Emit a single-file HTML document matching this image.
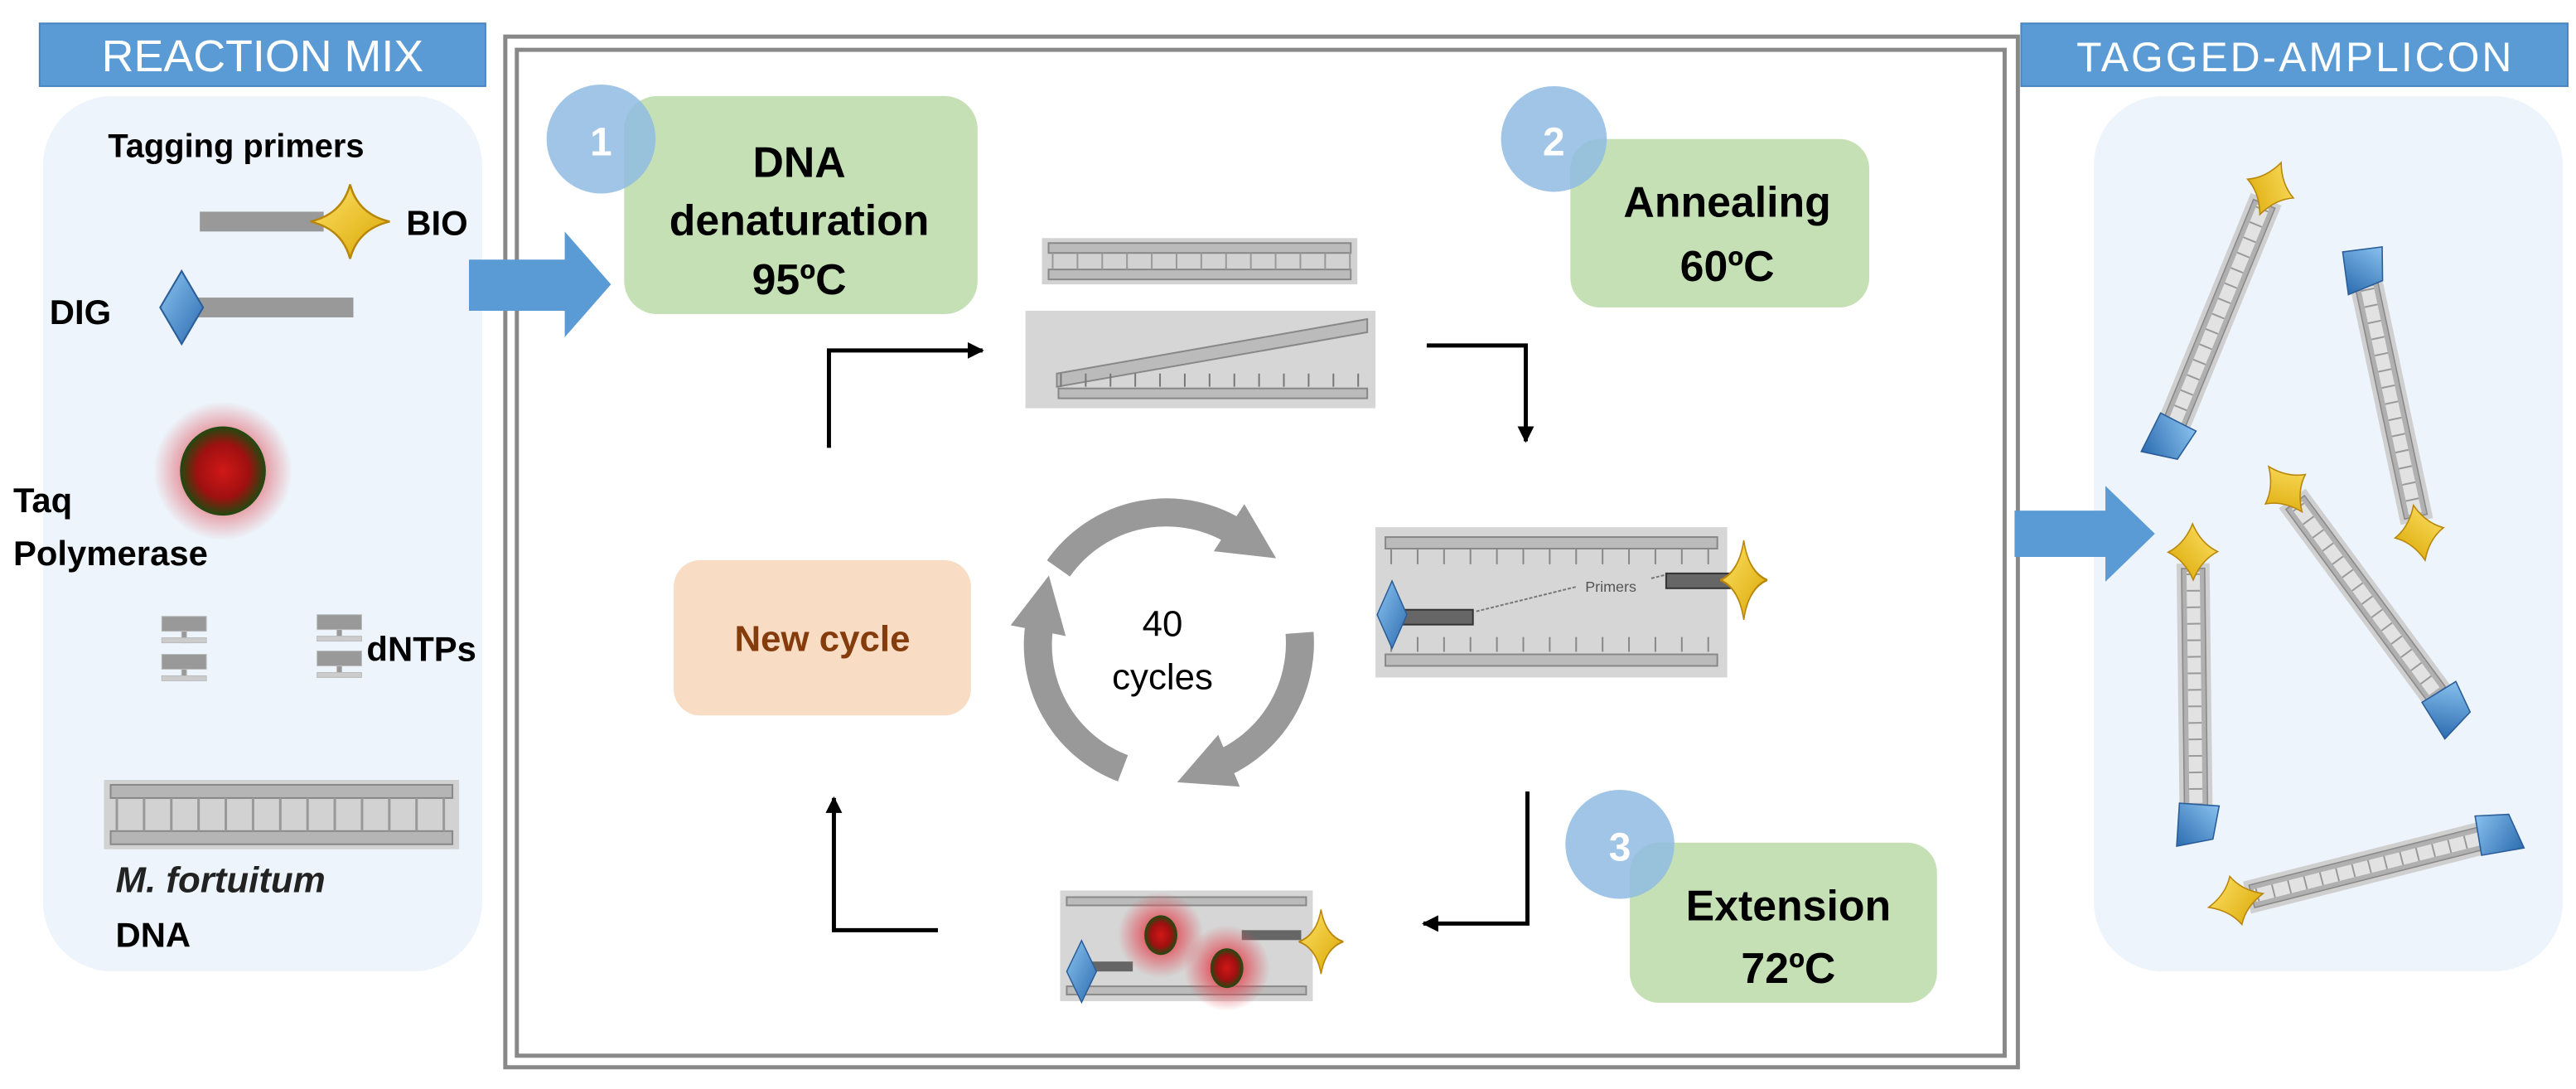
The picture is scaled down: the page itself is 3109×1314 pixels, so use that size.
<!DOCTYPE html>
<html><head><meta charset="utf-8"><style>html,body{margin:0;padding:0;background:#fff}svg{display:block}</style></head>
<body>
<svg width="3109" height="1314" viewBox="0 0 1560 659" xmlns="http://www.w3.org/2000/svg" font-family="Liberation Sans, sans-serif">
<defs>
<radialGradient id="glow"><stop offset="0.4" stop-color="#e0505a" stop-opacity="0.8"/><stop offset="1" stop-color="#e0505a" stop-opacity="0"/></radialGradient>
<radialGradient id="taq"><stop offset="0" stop-color="#d01818"/><stop offset="0.6" stop-color="#a01010"/><stop offset="1" stop-color="#1f4a10"/></radialGradient>
<linearGradient id="gold" x1="0" y1="0" x2="1" y2="1"><stop offset="0" stop-color="#ffe46a"/><stop offset="1" stop-color="#d8a400"/></linearGradient>
<linearGradient id="blu" x1="0" y1="0" x2="1" y2="1"><stop offset="0" stop-color="#8cc4f0"/><stop offset="1" stop-color="#2c6cb0"/></linearGradient>
<path id="star" d="M0,-15 Q3,-3 15,0 Q3,3 0,15 Q-3,3 -15,0 Q-3,-3 0,-15Z" fill="url(#gold)" stroke="#b8860b" stroke-width="0.8"/>
<path id="fstar" d="M0,-15 Q5,-5 17,0 Q5,5 0,15 Q-5,5 -17,0 Q-5,-5 0,-15Z" fill="url(#gold)" stroke="#b8860b" stroke-width="0.8"/>
<path id="dia" d="M0,-17 L10,0 0,17 -10,0Z" fill="url(#blu)" stroke="#2a5d99" stroke-width="0.8"/>
<path id="sdia" d="M-10,-14 L10,-10 14,12 -12,10Z" fill="url(#blu)" stroke="#2a5d99" stroke-width="0.8"/>
<g id="lad">
<rect x="0" y="-10" width="150" height="20" fill="#cfcfcf"/>
<rect x="3" y="-7" width="144" height="14" fill="#b0b0b0" stroke="#8a8a8a" stroke-width="0.8"/>
<rect x="5" y="-4" width="140" height="8" fill="#e2e2e2"/>
<line x1="6" y1="0" x2="144" y2="0" stroke="#999" stroke-width="8" stroke-dasharray="1 9"/>
</g>
<marker id="ah" viewBox="0 0 10 10" refX="9" refY="5" markerWidth="10" markerHeight="10" markerUnits="userSpaceOnUse" orient="auto"><path d="M0,0 L10,5 0,10Z" fill="#000"/></marker>
<marker id="gh" viewBox="0 0 10 10" refX="2" refY="5" markerWidth="34" markerHeight="34" markerUnits="userSpaceOnUse" orient="auto"><path d="M0,0 L10,5 0,10Z" fill="#999"/></marker>
</defs>

<!-- Left panel -->
<rect x="24" y="14" width="270" height="38" fill="#5b9bd5" stroke="#4a86c0"/>
<text x="159" y="43" text-anchor="middle" fill="#fff" font-size="27">REACTION MIX</text>
<rect x="26" y="58" width="266" height="530" rx="42" fill="#edf4fb"/>
<text x="143" y="95" text-anchor="middle" font-size="20" font-weight="bold">Tagging primers</text>
<rect x="121" y="128" width="75" height="12" fill="#999"/>
<use href="#star" transform="translate(212 134) scale(1.6 1.5)"/>
<text x="246" y="142" font-size="21" font-weight="bold">BIO</text>
<rect x="118" y="180" width="96" height="12" fill="#999"/>
<use href="#dia" transform="translate(110 186) scale(1.3)"/>
<text x="30" y="196" font-size="21" font-weight="bold">DIG</text>
<circle cx="135" cy="285" r="42" fill="url(#glow)"/>
<ellipse cx="135" cy="285" rx="26" ry="27" fill="url(#taq)"/>
<text x="8" y="310" font-size="21" font-weight="bold">Taq</text>
<text x="8" y="342" font-size="21" font-weight="bold">Polymerase</text>
<g fill="#999" stroke="#bbb" stroke-width="0.5">
<rect x="98" y="373" width="27" height="9"/><rect x="110" y="382" width="3" height="7"/><rect x="98" y="386" width="27" height="3" fill="#ccc"/>
<rect x="98" y="396" width="27" height="9"/><rect x="110" y="405" width="3" height="7"/><rect x="98" y="409" width="27" height="3" fill="#ccc"/>
<rect x="192" y="372" width="27" height="9"/><rect x="204" y="381" width="3" height="7"/><rect x="192" y="385" width="27" height="3" fill="#ccc"/>
<rect x="192" y="394" width="27" height="9"/><rect x="204" y="403" width="3" height="7"/><rect x="192" y="407" width="27" height="3" fill="#ccc"/>
</g>
<text x="222" y="400" font-size="21" font-weight="bold">dNTPs</text>
<rect x="63" y="472" width="215" height="42" fill="#d2d2d2"/>
<rect x="67" y="475" width="207" height="8" fill="#b5b5b5" stroke="#888"/>
<rect x="67" y="503" width="207" height="8" fill="#b5b5b5" stroke="#888"/>
<line x1="70" y1="493" x2="272" y2="493" stroke="#999" stroke-width="20" stroke-dasharray="1.5 15"/>
<text x="70" y="540" font-size="22" font-weight="bold" font-style="italic" fill="#222">M. fortuitum</text>
<text x="70" y="573" font-size="21" font-weight="bold">DNA</text>

<!-- Frame -->
<rect x="306" y="22" width="916" height="624" fill="none" stroke="#888" stroke-width="2.5"/>
<rect x="313" y="30" width="901" height="609" fill="none" stroke="#888" stroke-width="2.5"/>
<path d="M284,157 L342,157 L342,140 L370,172 L342,204 L342,188 L284,188Z" fill="#5b9bd5"/>

<!-- Step 1 -->
<rect x="378" y="58" width="214" height="132" rx="20" fill="#c5e0b4"/>
<circle cx="364" cy="84" r="33" fill="#8fbbe3" fill-opacity="0.85"/>
<text x="364" y="94" text-anchor="middle" fill="#fff" font-size="24" font-weight="bold">1</text>
<g font-size="26" font-weight="bold" text-anchor="middle">
<text x="484" y="107">DNA</text><text x="484" y="142">denaturation</text><text x="484" y="178">95ºC</text></g>

<!-- Step 2 -->
<rect x="951" y="84" width="181" height="102" rx="18" fill="#c5e0b4"/>
<circle cx="941" cy="84" r="32" fill="#8fbbe3" fill-opacity="0.85"/>
<text x="941" y="94" text-anchor="middle" fill="#fff" font-size="24" font-weight="bold">2</text>
<g font-size="26" font-weight="bold" text-anchor="middle">
<text x="1046" y="131">Annealing</text><text x="1046" y="170">60ºC</text></g>

<!-- Step 3 -->
<rect x="987" y="510" width="186" height="97" rx="18" fill="#c5e0b4"/>
<circle cx="981" cy="511" r="33" fill="#8fbbe3" fill-opacity="0.85"/>
<text x="981" y="521" text-anchor="middle" fill="#fff" font-size="24" font-weight="bold">3</text>
<g font-size="26" font-weight="bold" text-anchor="middle">
<text x="1083" y="557">Extension</text><text x="1083" y="595">72ºC</text></g>

<!-- New cycle -->
<rect x="408" y="339" width="180" height="94" rx="16" fill="#f8dcc4"/>
<text x="498" y="394" text-anchor="middle" fill="#843c0c" font-size="22" font-weight="bold">New cycle</text>

<!-- Connectors -->
<g fill="none" stroke="#000" stroke-width="2.5">
<path d="M502,271 L502,212 L595,212" marker-end="url(#ah)"/>
<path d="M864,209 L924,209 L924,267" marker-end="url(#ah)"/>
<path d="M925,479 L925,559 L862,559" marker-end="url(#ah)"/>
<path d="M568,563 L505,563 L505,483" marker-end="url(#ah)"/>
</g>

<!-- cycle arrows -->
<g fill="none" stroke="#999" stroke-width="17">
<path d="M641,344 A80,80 0 0 1 750,323" marker-end="url(#gh)"/>
<path d="M787,383 A80,80 0 0 1 738,463" marker-end="url(#gh)"/>
<path d="M680,465 A80,80 0 0 1 630,375" marker-end="url(#gh)"/>
</g>
<text x="704" y="385" text-anchor="middle" font-size="22">40</text>
<text x="704" y="417" text-anchor="middle" font-size="22">cycles</text>

<!-- DNA top (ds) -->
<rect x="631" y="144" width="191" height="28" fill="#d2d2d2"/>
<rect x="635" y="147" width="183" height="6" fill="#bbb" stroke="#888"/>
<rect x="635" y="163" width="183" height="6" fill="#bbb" stroke="#888"/>
<line x1="637" y1="158" x2="818" y2="158" stroke="#999" stroke-width="10" stroke-dasharray="1 14"/>
<!-- denatured -->
<rect x="621" y="188" width="212" height="59" fill="#d6d6d6"/>
<path d="M640,226 L828,193 L828,201 L640,234Z" fill="#bbb" stroke="#888"/>
<rect x="641" y="235" width="187" height="6" fill="#bbb" stroke="#888"/>
<line x1="642" y1="230" x2="828" y2="230" stroke="#777" stroke-width="8" stroke-dasharray="1 14"/>

<!-- primers image -->
<rect x="833" y="319" width="213" height="91" fill="#d6d6d6"/>
<rect x="839" y="325" width="201" height="7" fill="#bbb" stroke="#888"/>
<rect x="839" y="396" width="201" height="7" fill="#bbb" stroke="#888"/>
<line x1="842" y1="337" x2="1036" y2="337" stroke="#888" stroke-width="9" stroke-dasharray="1 15"/>
<line x1="842" y1="390" x2="1036" y2="390" stroke="#888" stroke-width="9" stroke-dasharray="1 15"/>
<rect x="1009" y="347" width="44" height="9" fill="#666" stroke="#333"/>
<rect x="842" y="369" width="50" height="9" fill="#666" stroke="#333"/>
<path d="M894,370 L955,355 M1000,350 L1008,348" stroke="#777" stroke-width="1" stroke-dasharray="2 1"/>
<text x="960" y="358" font-size="9" fill="#555">Primers</text>
<use href="#star" transform="translate(1056 351) scale(0.95 1.6)"/>
<use href="#dia" transform="translate(843 372) scale(0.9 1.2)"/>

<!-- extension image -->
<rect x="642" y="539" width="153" height="67" fill="#d6d6d6"/>
<rect x="646" y="543" width="145" height="5" fill="#bbb" stroke="#888"/>
<rect x="646" y="597" width="145" height="5" fill="#bbb" stroke="#888"/>
<rect x="752" y="563" width="36" height="6" fill="#666"/>
<rect x="656" y="582" width="30" height="6" fill="#666"/>
<circle cx="703" cy="566" r="26" fill="url(#glow)"/>
<circle cx="743" cy="586" r="26" fill="url(#glow)"/>
<ellipse cx="703" cy="566" rx="10" ry="12" fill="url(#taq)"/>
<ellipse cx="743" cy="586" rx="10" ry="12" fill="url(#taq)"/>
<use href="#star" transform="translate(800 570) scale(0.9 1.3)"/>
<use href="#dia" transform="translate(655 588) scale(0.9 1.1)"/>

<!-- Right panel -->
<rect x="1224" y="14" width="331" height="38" fill="#5b9bd5" stroke="#4a86c0"/>
<text x="1390" y="43" text-anchor="middle" fill="#fff" font-size="25" letter-spacing="1.5">TAGGED-AMPLICON</text>
<rect x="1268" y="58" width="284" height="530" rx="42" fill="#edf4fb"/>
<path d="M1220,309 L1275,309 L1275,294 L1305,323 L1275,352 L1275,337 L1220,337Z" fill="#5b9bd5"/>

<g transform="translate(1375 114) rotate(112.3)"><use href="#lad" x="7"/><use href="#fstar"/><use href="#sdia" transform="translate(163 0)"/></g>
<g transform="translate(1431 162) rotate(78)"><use href="#lad" x="7"/><use href="#sdia"/><use href="#fstar" x="164"/></g>
<g transform="translate(1384 296) rotate(53.6)"><use href="#lad" x="7"/><use href="#fstar"/><use href="#sdia" transform="translate(165 0)"/></g>
<g transform="translate(1328 334) rotate(89.3)"><use href="#lad" x="7"/><use href="#fstar"/><use href="#sdia" transform="translate(164 0)"/></g>
<g transform="translate(1354 545) rotate(-14.2)"><use href="#lad" x="7"/><use href="#fstar"/><use href="#sdia" transform="translate(163 0)"/></g>
</svg>
</body></html>
